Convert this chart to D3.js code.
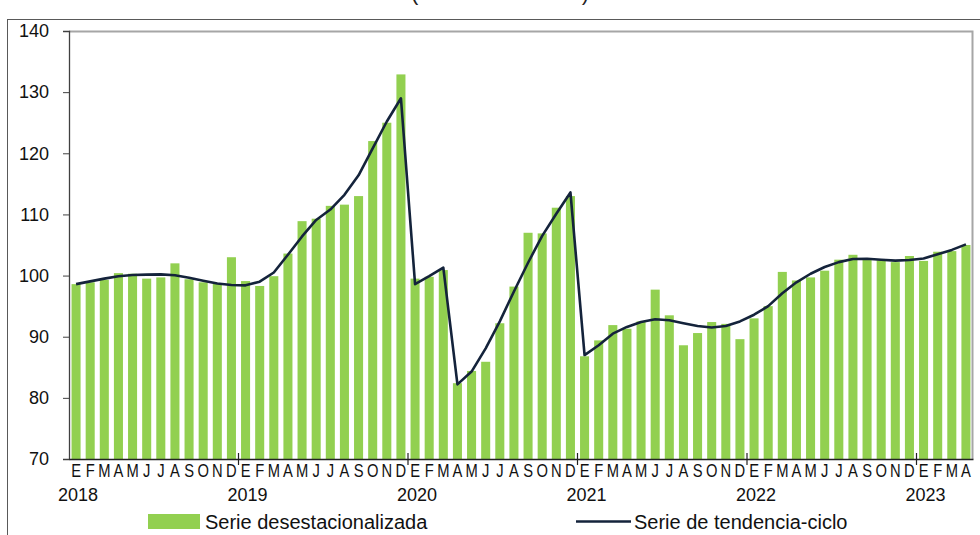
<!DOCTYPE html>
<html>
<head>
<meta charset="utf-8">
<script src="https://cdn.jsdelivr.net/npm/d3@7"></script>
<style>
    body { margin: 0; background: #fff; }
    svg { display: block; font-family: "Liberation Sans", Arial, sans-serif; }
</style>
</head>
<body>
<div id="chart"></div>
<script>

// data (monthly, Jan 2018 - Apr 2023)
var years = [2018, 2019, 2020, 2021, 2022, 2023];
var monthLetters = ["E", "F", "M", "A", "M", "J", "J", "A", "S", "O", "N", "D"];
var yTicks = [70, 80, 90, 100, 110, 120, 130, 140];

var desestacionalizada = [
    98.6, 98.9, 99.3, 100.4, 100.3, 99.5, 99.7, 102.0, 99.4, 98.9, 98.7, 103.0,
    99.1, 98.3, 99.9, 103.6, 108.9, 109.3, 111.4, 111.6, 113.0, 122.0, 125.0, 132.9,
    99.5, 99.8, 100.9, 82.4, 84.4, 85.9, 92.2, 98.2, 107.0, 106.9, 111.1, 113.0,
    86.8, 89.4, 91.9, 91.3, 92.5, 97.7, 93.5, 88.6, 90.6, 92.4, 92.1, 89.6,
    93.0, 95.0, 100.6, 99.2, 99.7, 100.8, 102.6, 103.4, 102.8, 102.5, 102.2, 103.2,
    102.4, 103.9, 104.0, 105.0
];

var tendenciaCiclo = [
    98.6, 99.05, 99.5, 99.9, 100.1, 100.15, 100.2, 100.05, 99.65, 99.15, 98.7, 98.45,
    98.4, 99.0, 100.5, 103.4, 106.4, 109.1, 110.8, 113.2, 116.4, 120.8, 125.2, 129.0,
    98.6, 99.9, 101.3, 82.2, 84.3, 88.1, 92.5, 97.4, 102.1, 106.5, 110.1, 113.6,
    87.0, 88.6, 90.5, 91.6, 92.4, 92.85, 92.7, 92.2, 91.75, 91.5, 91.75, 92.5,
    93.6, 95.0, 97.1, 98.9, 100.3, 101.4, 102.2, 102.7, 102.75, 102.6, 102.45, 102.55,
    102.8, 103.5, 104.2, 105.1
];

// build rows: one per month
var dataset = desestacionalizada.map(function(v, i) {
    return {
        id: i,
        year: years[Math.floor(i / 12)],
        month: monthLetters[i % 12],
        value: v,
        trend: tendenciaCiclo[i]
    };
});

var width = 980, height = 535;
var marginLeft = 69, marginTop = 31, marginRight = 7, marginBottom = 76;
var chartWidth = width - marginLeft - marginRight;
var chartHeight = height - marginTop - marginBottom;

var svg = d3.select("#chart").append("svg")
    .attr("width", width)
    .attr("height", height);

// outer frame (cut by the window on right and bottom)
svg.append("rect")
    .attr("x", 7.5).attr("y", 19.5)
    .attr("width", 1000).attr("height", 600)
    .attr("fill", "none")
    .attr("stroke", "#595959")
    .attr("stroke-width", 1);

// title, cut off at the top of the picture like in the original:
// only the bottom of the parentheses shows
svg.append("text")
    .attr("x", 500).attr("y", -0.5)
    .attr("text-anchor", "middle")
    .attr("font-size", "22px")
    .attr("fill", "#222")
    .text("(Índice 2018=100)");

var chart = svg.append("g")
    .attr("transform", "translate(" + marginLeft + "," + marginTop + ")");

// scales
var xScale = d3.scaleBand()
    .domain(dataset.map(function(d) { return d.id; }))
    .range([0, chartWidth])
    .paddingInner(0.36)
    .paddingOuter(0.18);
var yScale = d3.scaleLinear()
    .domain([70, 140])
    .range([chartHeight, 0]);

// plot area border (top and right, light gray)
chart.append("path")
    .attr("d", "M0,0.5H" + (chartWidth - 0.5) + "V" + chartHeight)
    .attr("fill", "none")
    .attr("stroke", "#a6a6a6")
    .attr("stroke-width", 2);

// bars
chart.selectAll("rect.bar")
    .data(dataset)
    .enter()
    .append("rect")
    .attr("class", "bar")
    .attr("x", function(d) { return xScale(d.id); })
    .attr("width", xScale.bandwidth())
    .attr("y", function(d) { return yScale(d.value); })
    .attr("height", function(d) { return chartHeight - yScale(d.value); })
    .attr("fill", "#92d050");

// trend line
var line = d3.line()
    .x(function(d) { return xScale(d.id) + xScale.bandwidth() / 2; })
    .y(function(d) { return yScale(d.trend); });

chart.append("path")
    .datum(dataset)
    .attr("d", line)
    .attr("fill", "none")
    .attr("stroke", "#14233b")
    .attr("stroke-width", 2.6)
    .attr("stroke-linejoin", "round");

// y axis
var yAxis = d3.axisLeft(yScale).tickValues(yTicks).tickSize(6).tickPadding(14);
var yAxisG = chart.append("g").attr("class", "y axis").call(yAxis);
yAxisG.select(".domain").attr("stroke", "#404040").attr("stroke-width", 1.3);
yAxisG.selectAll(".tick line").attr("stroke", "#404040");
yAxisG.selectAll(".tick text")
    .attr("font-size", "18px")
    .attr("fill", "#111");

// x axis: month letters (narrow, like the original)
var xAxis = d3.axisBottom(xScale)
    .tickSize(0)
    .tickPadding(5)
    .tickFormat(function(id) { return dataset[id].month; });
var xAxisG = chart.append("g")
    .attr("class", "x axis")
    .attr("transform", "translate(0," + chartHeight + ")")
    .call(xAxis);
xAxisG.select(".domain").attr("stroke", "#222").attr("stroke-width", 1.3);
xAxisG.selectAll(".tick text")
    .attr("font-size", "18px")
    .attr("transform", "scale(0.82,1)")
    .attr("fill", "#111");

// year separators
var step = xScale.step();
var yearStarts = years.map(function(y, i) { return i * 12; });
xAxisG.selectAll("line.year")
    .data(yearStarts.slice(1))
    .enter()
    .append("line")
    .attr("class", "year")
    .attr("x1", function(id) { return xScale(id) - step * xScale.paddingInner() / 2; })
    .attr("x2", function(id) { return xScale(id) - step * xScale.paddingInner() / 2; })
    .attr("y1", -6)
    .attr("y2", 6)
    .attr("stroke", "#222")
    .attr("stroke-width", 1.2);

// year labels
xAxisG.selectAll("text.year")
    .data(yearStarts)
    .enter()
    .append("text")
    .attr("class", "year")
    .attr("x", function(id) { return xScale(id) + xScale.bandwidth() / 2 + 2; })
    .attr("y", 42)
    .attr("text-anchor", "middle")
    .attr("font-size", "18px")
    .attr("fill", "#111")
    .text(function(id, i) { return years[i]; });

// legend
var legend = svg.append("g").attr("class", "legend");
legend.append("rect")
    .attr("x", 148).attr("y", 514)
    .attr("width", 52).attr("height", 15)
    .attr("fill", "#92d050");
legend.append("text")
    .attr("x", 205).attr("y", 529)
    .attr("font-size", "20px")
    .attr("fill", "#111")
    .text("Serie desestacionalizada");
legend.append("line")
    .attr("x1", 576).attr("x2", 631)
    .attr("y1", 521.5).attr("y2", 521.5)
    .attr("stroke", "#14233b")
    .attr("stroke-width", 2.6);
legend.append("text")
    .attr("x", 634).attr("y", 529)
    .attr("font-size", "20px")
    .attr("fill", "#111")
    .text("Serie de tendencia-ciclo");

</script>
</body>
</html>
